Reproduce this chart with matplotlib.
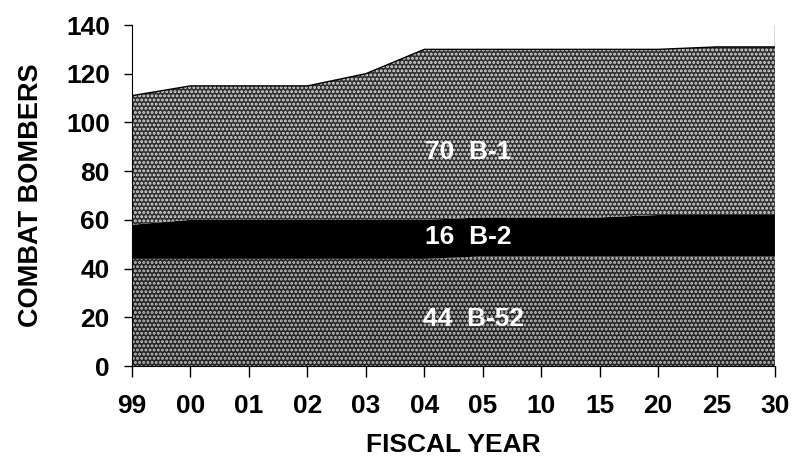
import matplotlib
matplotlib.use("Agg")
import matplotlib.pyplot as plt
import numpy as np

years = ["99", "00", "01", "02", "03", "04", "05", "10", "15", "20", "25", "30"]
b52 = [44, 44, 44, 44, 44, 44, 45, 45, 45, 45, 45, 45]
b2 = [14, 16, 16, 16, 16, 16, 16, 16, 16, 17, 17, 17]
total = [111, 115, 115, 115, 120, 130, 130, 130, 130, 130, 131, 131]
b1 = [t - a - b for t, a, b in zip(total, b52, b2)]
labels = ["70  B-1", "16  B-2", "44  B-52"]

plt.rcParams["font.family"] = ["Liberation Sans", "DejaVu Sans"]
plt.rcParams["hatch.linewidth"] = 1.4

fig = plt.figure(figsize=(7.96, 4.62), dpi=100)
ax = fig.add_axes([132 / 796, 1 - 366 / 462, (775 - 132) / 796, (366 - 25) / 462])

x = np.arange(len(years))
y0 = np.array(b52, float)
y1 = y0 + np.array(b2, float)
y2 = y1 + np.array(b1, float)

ax.fill_between(x, 0, y0, facecolor="#262626", edgecolor="#c8c8c8", hatch="....", linewidth=0)
ax.fill_between(x, y0, y1, facecolor="black", linewidth=0)
ax.fill_between(x, y1, y2, facecolor="#303030", edgecolor="#dedede", hatch="....", linewidth=0)
ax.plot(x, y2, color="black", lw=1)
ax.axvline(x[-1], color="#444444", lw=1)

ax.set_xlim(0, len(years) - 1)
ax.set_ylim(0, 140)
ax.set_yticks(range(0, 141, 20))
ax.set_xticks(x)
ax.set_xticklabels(years)
for s in ["top", "right"]:
    ax.spines[s].set_visible(False)
ax.tick_params(axis="both", labelsize=19, width=1, direction="out", colors="black")
ax.tick_params(axis="x", length=8, pad=12)
ax.tick_params(axis="y", length=6, pad=10)
for t in ax.get_xticklabels() + ax.get_yticklabels():
    t.set_fontweight("bold")

ax.set_ylabel("COMBAT BOMBERS", fontsize=19.5, fontweight="bold", labelpad=16)
ax.set_xlabel("FISCAL YEAR", fontsize=19, fontweight="bold", labelpad=11)

ax.text(5.75, 88, labels[0], color="white", fontsize=19, fontweight="bold", ha="center", va="center")
ax.text(5.75, 53, labels[1], color="white", fontsize=19, fontweight="bold", ha="center", va="center")
ax.text(5.85, 19.5, labels[2], color="white", fontsize=19, fontweight="bold", ha="center", va="center")

fig.savefig("out.png", dpi=100)
